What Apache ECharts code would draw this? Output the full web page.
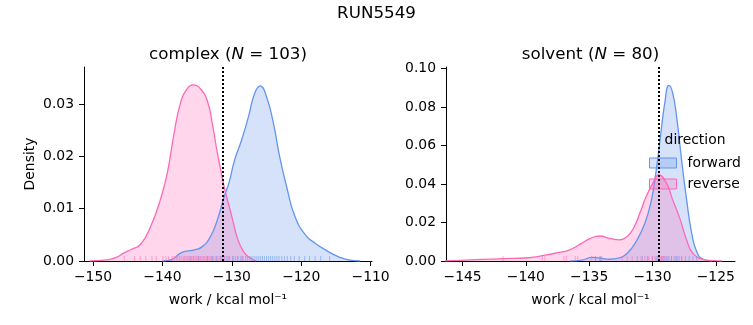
<!DOCTYPE html>
<html><head><meta charset="utf-8">
<script src="https://cdn.jsdelivr.net/npm/echarts@6/dist/echarts.min.js"></script>
<style>html,body{margin:0;padding:0;background:#fff}#c{width:753px;height:325px}</style>
</head><body><div id="c"></div>
<script>
// ---- data ----
const complexForwardX = [-140, -138.8, -137.4, -136.5, -135.5, -134.3, -133.1, -132.1, -131.1, -130.4, -129.6, -128.6, -127.6, -126.7, -125.9, -125.0, -124.0, -123.1, -122.1, -120.9, -119.4, -118.0, -116.1, -114.6, -113.2, -111.5];
const complexForwardY = [0, 0.0002, 0.0015, 0.0019, 0.0021, 0.0027, 0.0046, 0.0078, 0.0123, 0.015, 0.0193, 0.0231, 0.0276, 0.0321, 0.0335, 0.0314, 0.0263, 0.0199, 0.0142, 0.0085, 0.005, 0.0034, 0.0018, 0.0008, 0.0002, 0];
const complexReverseX = [-150.5, -148, -146.5, -145.6, -144.5, -143.2, -141.7, -140.3, -139.3, -138.4, -137.4, -136.4, -135.6, -134.5, -133.5, -132.8, -132.1, -131.4, -131.0, -130.0, -129.1, -128.3, -127.6, -126.5];
const complexReverseY = [0, 0.0002, 0.0008, 0.0015, 0.0022, 0.0031, 0.0066, 0.0117, 0.0168, 0.0238, 0.0302, 0.033, 0.0337, 0.0329, 0.0305, 0.0262, 0.0208, 0.0161, 0.0136, 0.0085, 0.004, 0.0018, 0.0008, 0];
const solventForwardX = [-136.5, -135.7, -134.7, -134.0, -133.4, -132.6, -132.0, -131.3, -130.6, -130.08, -129.7, -129.37, -129.03, -128.7, -128.4, -128.06, -127.7, -127.3, -126.9, -126.5, -126.0, -125.3];
const solventForwardY = [0, 0.0003, 0.0019, 0.0014, 0.0009, 0.0016, 0.004, 0.010, 0.0196, 0.0318, 0.0474, 0.0647, 0.0821, 0.0913, 0.0873, 0.0734, 0.0526, 0.0318, 0.0144, 0.0048, 0.0009, 0];
const solventReverseX = [-146.5, -145.3, -143.5, -141.8, -139.8, -138.5, -137.5, -136.6, -135.6, -134.9, -134.15, -133.4, -132.6, -132.0, -131.5, -131.0, -130.5, -129.9, -129.5, -128.9, -128.4, -127.8, -127.3, -126.8, -126.0, -125.2, -124.5];
const solventReverseY = [0, 0.0003, 0.0008, 0.0012, 0.0017, 0.003, 0.0043, 0.0057, 0.0092, 0.0118, 0.013, 0.0118, 0.011, 0.0127, 0.017, 0.0248, 0.0335, 0.0413, 0.0448, 0.0405, 0.0318, 0.0214, 0.0109, 0.004, 0.0009, 0.0002, 0];

const complexForwardRug = [-136.0, -134.8, -133.5, -132.8, -132.2, -131.6, -131.1, -130.7, -130.3, -129.9, -129.5, -129.1, -128.7, -128.4, -128.0, -127.7, -127.4, -127.1, -126.8, -126.5, -126.2, -125.9, -125.6, -125.3, -125.0, -124.7, -124.4, -124.1, -123.8, -123.5, -123.2, -122.8, -122.4, -122.0, -121.5, -121.0, -120.3, -119.5, -118.8, -118.0, -117.2, -115.9];
const complexReverseRug = [-145.5, -144.0, -143.2, -142.4, -141.5, -140.9, -139.9, -139.5, -139.1, -138.6, -138.3, -138.0, -137.8, -137.5, -137.3, -137.0, -136.8, -136.6, -136.4, -136.2, -136.0, -135.8, -135.6, -135.5, -135.3, -135.1, -134.9, -134.7, -134.5, -134.3, -134.1, -133.9, -133.7, -133.5, -133.3, -133.1, -132.9, -132.6, -132.3, -132.0, -131.7, -131.4, -131.0, -130.5, -129.8, -129.2, -128.5];
const solventForwardRug = [-134.5, -134.1, -131.2, -130.8, -130.4, -130.0, -129.7, -129.5, -129.3, -129.1, -128.9, -128.7, -128.5, -128.3, -128.1, -127.9, -127.7, -127.4, -127.1, -126.8, -126.5];
const solventReverseRug = [-141.8, -138.7, -138.5, -137.0, -136.8, -136.1, -135.9, -134.8, -134.5, -134.2, -134.0, -132.4, -132.0, -131.6, -130.9, -130.6, -130.3, -130.0, -129.8, -129.6, -129.5, -129.4, -129.3, -129.2, -129.1, -129.0, -128.8, -128.5, -128.2, -128.0, -127.7];

const complexMean = -131.33;
const solventMean = -129.53;

const complexXTicks = [-150, -140, -130, -120, -110];
const complexYTicks = [0, 0.01, 0.02, 0.03];
const solventXTicks = [-145, -140, -135, -130, -125];
const solventYTicks = [0, 0.02, 0.04, 0.06, 0.08, 0.10];

// ---- styling ----
const FONT = 'DejaVu Sans';
const FS = 13.9, FT = 16.7;
const BLUE = '#6495ED', PINK = '#FF69B4';
const BLUE_FILL = 'rgba(100,149,237,0.27)', PINK_FILL = 'rgba(255,105,180,0.27)';
const minus = v => String(v).replace('-', '\u2212');
const zip = (xs, ys) => xs.map((x, i) => [x, ys[i]]);
const rug = xs => xs.map(x => [x, 0]);

function xAxis(gi, min, max, ticks) {
  return {
    gridIndex: gi, type: 'value', min, max,
    axisLine: { show: true, onZero: false, lineStyle: { color: '#000', width: 1 } },
    axisTick: { show: true, length: 5, customValues: ticks, lineStyle: { color: '#000', width: 1 } },
    axisLabel: { customValues: ticks, formatter: v => minus(v), color: '#000', fontSize: FS, fontFamily: FONT, margin: 9 },
    splitLine: { show: false },
    name: 'work / kcal mol\u207B\u00B9', nameLocation: 'middle', nameGap: 32,
    nameTextStyle: { color: '#000', fontSize: FS, fontFamily: FONT }
  };
}
function yAxis(gi, max, ticks, name) {
  return {
    gridIndex: gi, type: 'value', min: 0, max,
    axisLine: { show: true, onZero: false, lineStyle: { color: '#000', width: 1 } },
    axisTick: { show: true, length: 5, customValues: ticks, lineStyle: { color: '#000', width: 1 } },
    axisLabel: { customValues: ticks, formatter: v => v.toFixed(2), color: '#000', fontSize: FS, fontFamily: FONT, margin: 10 },
    splitLine: { show: false },
    name: name || '', nameLocation: 'middle', nameGap: 47,
    nameTextStyle: { color: '#000', fontSize: FS, fontFamily: FONT }
  };
}
function kde(name, gi, data, color, fill, z, mean) {
  const s = {
    name, type: 'line', xAxisIndex: gi, yAxisIndex: gi, data,
    smooth: 0.5, showSymbol: false, symbol: 'none',
    lineStyle: { color, width: 1.3 }, itemStyle: { color },
    areaStyle: { color: fill, opacity: 1, origin: 'start' }, z, silent: true
  };
  if (mean !== undefined) {
    s.markLine = {
      silent: true, symbol: 'none', label: { show: false },
      lineStyle: { color: '#000', type: [2, 2], width: 2 },
      data: [{ xAxis: mean }], z: 10
    };
  }
  return s;
}
function rugSeries(name, gi, data, color) {
  return {
    name, type: 'scatter', xAxisIndex: gi, yAxisIndex: gi, data,
    symbol: 'rect', symbolSize: [1, 5], symbolOffset: [0, -2.5],
    itemStyle: { color, opacity: 0.55 }, silent: true, z: 3
  };
}
const titleStyle = { fontSize: FT, fontWeight: 'normal', color: '#000', fontFamily: FONT,
  rich: { i: { fontStyle: 'italic', fontSize: FT, fontFamily: FONT, color: '#000' } } };

const chart = echarts.init(document.getElementById('c'), null, { renderer: 'canvas' });
chart.setOption({
  animation: false,
  backgroundColor: '#fff',
  textStyle: { fontFamily: FONT },
  title: [
    { text: 'RUN5549', left: 376.5, top: 5, padding: 0, textAlign: 'center', textStyle: titleStyle },
    { text: 'complex ({i|N} = 103)', left: 228, top: 46, padding: 0, textAlign: 'center', textStyle: titleStyle },
    { text: 'solvent ({i|N} = 80)', left: 590.5, top: 46, padding: 0, textAlign: 'center', textStyle: titleStyle },
    { text: 'direction', left: 695, top: 133, padding: 0, textAlign: 'center', textStyle: { fontSize: FS, fontWeight: 'normal', color: '#000', fontFamily: FONT } }
  ],
  legend: {
    orient: 'vertical', left: 649, top: 156, padding: 0, icon: 'rect', itemWidth: 27, itemHeight: 10, itemGap: 7,
    textStyle: { fontSize: FS, color: '#000', fontFamily: FONT, padding: [0, 0, 0, 6] },
    data: [
      { name: 'forward', itemStyle: { color: BLUE_FILL, borderColor: BLUE, borderWidth: 1 } },
      { name: 'reverse', itemStyle: { color: PINK_FILL, borderColor: PINK, borderWidth: 1 } }
    ],
    selectedMode: false
  },
  grid: [
    { left: 84, top: 67, width: 288, height: 194 },
    { left: 446, top: 67, width: 289, height: 194 }
  ],
  xAxis: [xAxis(0, -151.3, -109.8, complexXTicks), xAxis(1, -146.31, -123.48, solventXTicks)],
  yAxis: [yAxis(0, 0.0371, complexYTicks, 'Density'), yAxis(1, 0.1009, solventYTicks)],
  series: [
    kde('forward', 0, zip(complexForwardX, complexForwardY), BLUE, BLUE_FILL, 2, complexMean),
    kde('reverse', 0, zip(complexReverseX, complexReverseY), PINK, PINK_FILL, 2),
    rugSeries('forward', 0, rug(complexForwardRug), BLUE),
    rugSeries('reverse', 0, rug(complexReverseRug), PINK),
    kde('forward', 1, zip(solventForwardX, solventForwardY), BLUE, BLUE_FILL, 2, solventMean),
    kde('reverse', 1, zip(solventReverseX, solventReverseY), PINK, PINK_FILL, 2),
    rugSeries('forward', 1, rug(solventForwardRug), BLUE),
    rugSeries('reverse', 1, rug(solventReverseRug), PINK)
  ]
});
</script></body></html>
